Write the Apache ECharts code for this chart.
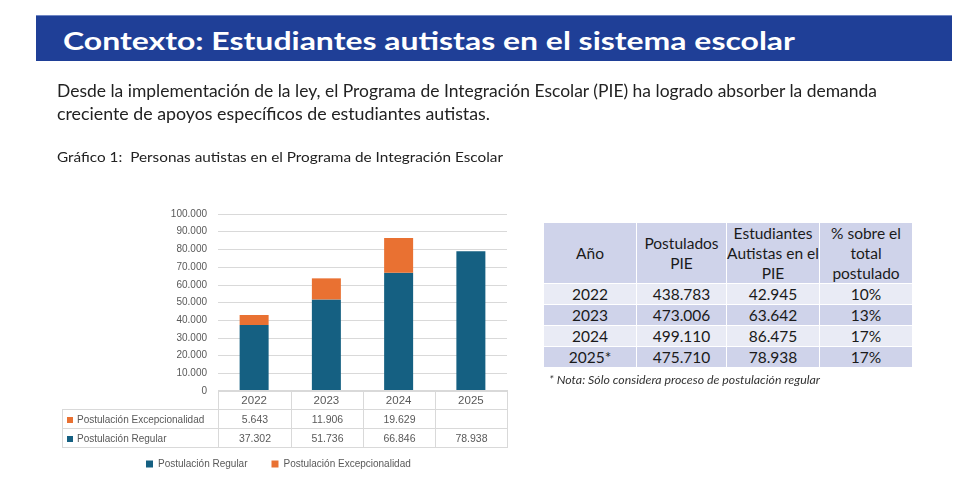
<!DOCTYPE html>
<html><head><meta charset="utf-8">
<script src="https://cdn.jsdelivr.net/npm/echarts@6/dist/echarts.min.js"></script>
<style>
html,body{margin:0;padding:0;background:#fff;width:956px;height:484px;overflow:hidden;}
#chart{position:absolute;left:0;top:0;width:956px;height:484px;}
.abs{position:absolute;white-space:pre;}
.fit{display:inline-block;transform-origin:0 50%;}
#bar{position:absolute;left:36px;top:15px;width:916px;height:45px;background:#1f3f97;border-top:1px solid #6f86c4;}
.slide{font-family:Lato,"Open Sans",sans-serif;color:#222;}
#dt{position:absolute;left:62px;top:390px;border-collapse:collapse;table-layout:fixed;font-family:"Liberation Sans",Arial,sans-serif;color:#595959;}
#dt td{border:1px solid #d9d9d9;padding:0;text-align:center;font-size:10.5px;white-space:nowrap;}
#dt td.lab{text-align:left;font-size:10px;padding-left:4px;}
.mk{display:inline-block;width:6px;height:6px;margin-right:4px;vertical-align:0px;}
#rt{position:absolute;left:543px;top:222px;border-collapse:collapse;table-layout:fixed;font-family:Lato,"Open Sans",sans-serif;color:#1a1a1a;font-size:15.5px;}
#rt td{border:1px solid #fff;padding:0;text-align:center;line-height:20px;white-space:nowrap;}
</style></head><body>
<div id="chart"></div>
<div id="bar"></div>
<div id="overlay"></div>
<script>
// ---- data ----
const years = ['2022', '2023', '2024', '2025'];
const regular = [37302, 51736, 66846, 78938];
const excepcional = [5643, 11906, 19629, null];
const seriesNames = ['Postulación Regular', 'Postulación Excepcionalidad'];
const yMax = 100000;
const yStep = 10000;

const tableYears = ['2022', '2023', '2024', '2025*'];
const postuladosPIE = [438783, 473006, 499110, 475710];
const autistasPIE = [42945, 63642, 86475, 78938];
const pctSobreTotal = ['10%', '13%', '17%', '17%'];
const tableHeaders = ['Año', 'Postulados<br>PIE', 'Estudiantes<br>Autistas en el<br>PIE', '% sobre el<br>total<br>postulado'];

const titleText = 'Contexto: Estudiantes autistas en el sistema escolar';
const paraLines = ['Desde la implementación de la ley, el Programa de Integración Escolar (PIE) ha logrado absorber la demanda',
                   'creciente de apoyos específicos de estudiantes autistas.'];
const chartCaption = 'Gráfico 1:  Personas autistas en el Programa de Integración Escolar';
const noteText = '* Nota: Sólo considera proceso de postulación regular';

const colors = ['#156082', '#e97132'];

function fmt(n) {
  if (n === null || n === undefined) return '';
  return String(n).replace(/\B(?=(\d{3})+(?!\d))/g, '.');
}

// ---- slide text ----
const ov = document.getElementById('overlay');
function addText(txt, left, cy, size, width, extra) {
  const d = document.createElement('div');
  d.className = 'abs slide';
  const h = Math.round(size * 1.4);
  d.style.left = left + 'px';
  d.style.top = (cy - h / 2) + 'px';
  d.style.height = h + 'px';
  d.style.lineHeight = h + 'px';
  d.style.fontSize = size + 'px';
  Object.assign(d.style, extra || {});
  const s = document.createElement('span');
  s.className = 'fit';
  s.dataset.w = width;
  s.textContent = txt;
  d.appendChild(s);
  ov.appendChild(d);
}
addText(titleText, 63, 40, 25.5, 732, {color: '#fff', fontWeight: 'bold'});
addText(paraLines[0], 57, 91, 16.5, 820);
addText(paraLines[1], 57, 114, 16.5, 433);
addText(chartCaption, 57, 157, 13.3, 446);
addText(noteText, 549, 380, 11.5, 271, {fontStyle: 'italic', color: '#333'});

// ---- data table under the chart ----
const dt = document.createElement('table');
dt.id = 'dt';
const colW = [156, 73, 72, 72, 72];
let html = '<colgroup>' + colW.map(w => '<col style="width:' + w + 'px">').join('') + '</colgroup>';
html += '<tr style="height:19px"><td style="border-top:hidden;border-left:hidden"></td>' + years.map(() => '<td></td>').join('') + '</tr>';
html += '<tr style="height:19px"><td class="lab"><span class="mk" style="background:' + colors[1] + '"></span>' + seriesNames[1] + '</td>' + excepcional.map(v => '<td>' + fmt(v) + '</td>').join('') + '</tr>';
html += '<tr style="height:19px"><td class="lab"><span class="mk" style="background:' + colors[0] + '"></span>' + seriesNames[0] + '</td>' + regular.map(v => '<td>' + fmt(v) + '</td>').join('') + '</tr>';
dt.innerHTML = html;
ov.appendChild(dt);

// ---- right table ----
const rt = document.createElement('table');
rt.id = 'rt';
const rW = [93, 90, 93, 93];
let rh = '<colgroup>' + rW.map(w => '<col style="width:' + w + 'px">').join('') + '</colgroup>';
rh += '<tr style="height:59px;background:#cfd3ea">' + tableHeaders.map(h => '<td>' + h + '</td>').join('') + '</tr>';
tableYears.forEach((y, i) => {
  const bg = i % 2 === 0 ? '#e9ebf5' : '#cfd3ea';
  rh += '<tr style="height:20px;background:' + bg + '"><td>' + y + '</td><td>' + fmt(postuladosPIE[i]) + '</td><td>' + fmt(autistasPIE[i]) + '</td><td>' + pctSobreTotal[i] + '</td></tr>';
});
rt.innerHTML = rh;
ov.appendChild(rt);

function fitAll() {
  document.querySelectorAll('.fit').forEach(s => {
    s.style.transform = 'none';
    const w = s.getBoundingClientRect().width;
    const t = parseFloat(s.dataset.w);
    if (w > 0) s.style.transform = 'scaleX(' + (t / w) + ')';
  });
}
fitAll();
if (document.fonts && document.fonts.ready) document.fonts.ready.then(fitAll);

// ---- chart ----
const chart = echarts.init(document.getElementById('chart'));
const font = '"Liberation Sans", Arial, sans-serif';
chart.setOption({
  animation: false,
  grid: {left: 218, top: 214, width: 289, height: 177, containLabel: false},
  legend: {
    data: seriesNames,
    left: 146, top: 459,
    icon: 'rect', itemWidth: 7, itemHeight: 7, itemGap: 24, padding: 0,
    textStyle: {fontSize: 10, color: '#595959', fontFamily: font}
  },
  xAxis: {
    type: 'category', data: years,
    axisLine: {show: false}, axisTick: {show: false},
    axisLabel: {margin: 4, fontSize: 11.5, color: '#595959', fontFamily: font}
  },
  yAxis: {
    type: 'value', min: 0, max: yMax, interval: yStep,
    axisLine: {show: false}, axisTick: {show: false},
    axisLabel: {margin: 11, fontSize: 10, color: '#595959', fontFamily: font, formatter: v => fmt(v)},
    splitLine: {lineStyle: {color: '#d9d9d9', width: 1}}
  },
  series: [
    {name: seriesNames[0], type: 'bar', stack: 'total', data: regular, barWidth: 29, itemStyle: {color: colors[0]}},
    {name: seriesNames[1], type: 'bar', stack: 'total', data: excepcional, barWidth: 29, itemStyle: {color: colors[1]}}
  ]
});
</script>
</body></html>
